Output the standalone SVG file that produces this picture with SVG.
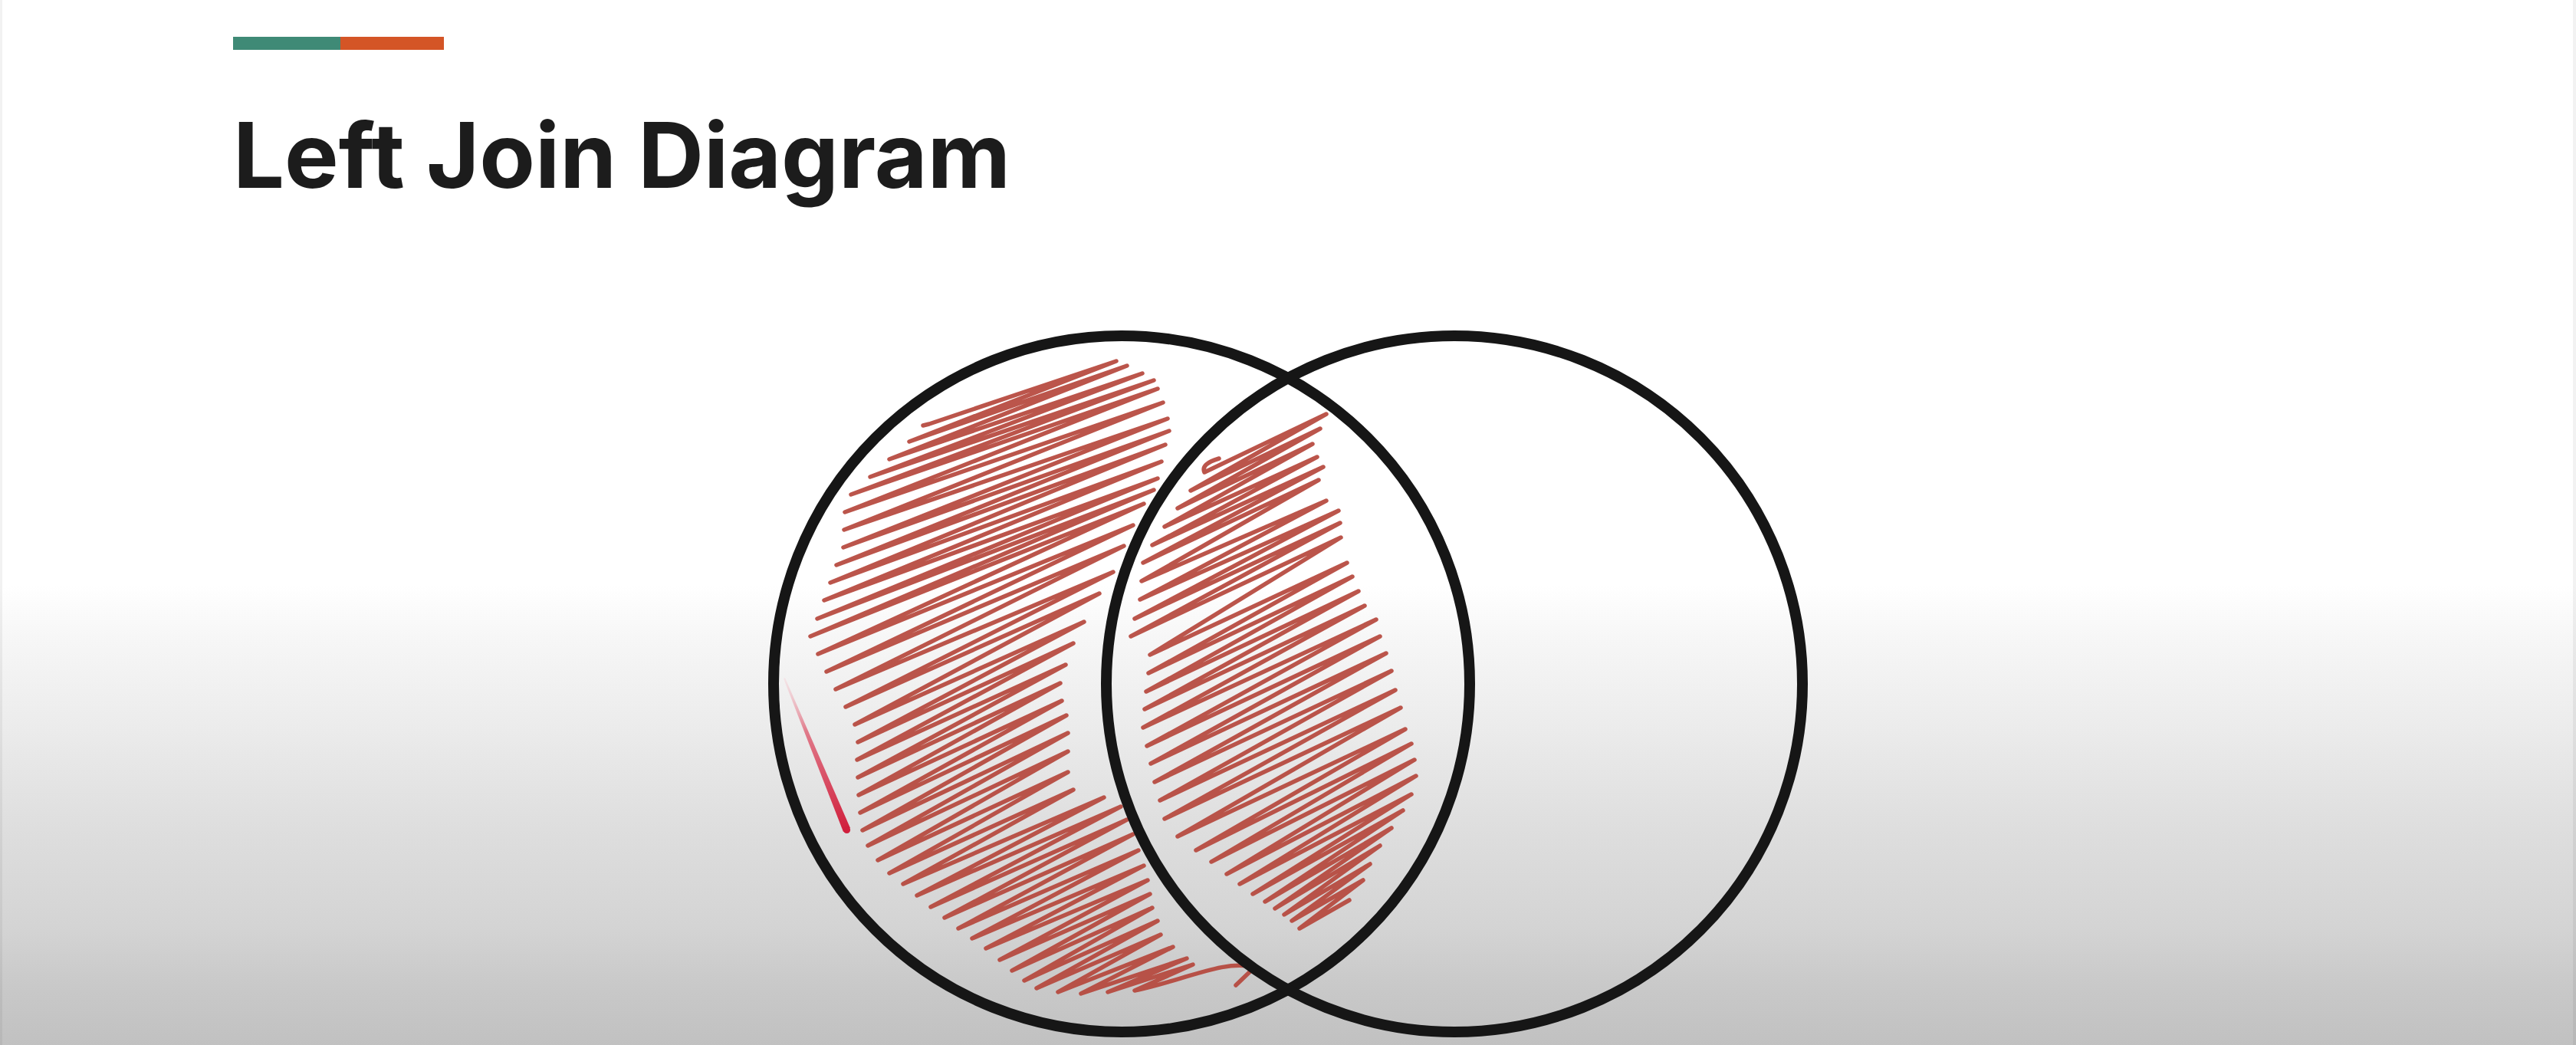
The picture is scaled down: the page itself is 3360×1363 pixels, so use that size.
<svg xmlns="http://www.w3.org/2000/svg" width="3360" height="1363" viewBox="0 0 3360 1363">
<defs>
<linearGradient id="bg" x1="0" y1="0" x2="0" y2="1363" gradientUnits="userSpaceOnUse">
<stop offset="0" stop-color="#ffffff"/>
<stop offset="0.56" stop-color="#ffffff"/>
<stop offset="0.607" stop-color="#f7f7f7"/>
<stop offset="0.70" stop-color="#ebebeb"/>
<stop offset="0.792" stop-color="#dedede"/>
<stop offset="0.886" stop-color="#d4d4d4"/>
<stop offset="0.948" stop-color="#c8c8c8"/>
<stop offset="1" stop-color="#c1c1c1"/>
</linearGradient>
<linearGradient id="pen" x1="1023" y1="885" x2="1105" y2="1083" gradientUnits="userSpaceOnUse">
<stop offset="0" stop-color="#f6d0d6" stop-opacity="0.4"/>
<stop offset="0.35" stop-color="#e07a8a"/>
<stop offset="1" stop-color="#d01f3c"/>
</linearGradient>
<style>
.title{font-family:Inter,"Liberation Sans",sans-serif;font-weight:700;font-size:118px;fill:#1c1c1c}
.ring{fill:none;stroke:#161616;stroke-width:14}
.scrib{fill:none;stroke:#b5463c;stroke-width:5.5;stroke-linejoin:round;stroke-linecap:round;opacity:0.92}
</style>
</defs>
<rect x="0" y="0" width="3360" height="1363" fill="url(#bg)"/>
<rect x="0" y="0" width="3" height="1363" fill="#000" opacity="0.05"/>
<rect x="3356" y="0" width="4" height="1363" fill="#000" opacity="0.05"/>

<g id="accent-bar">
<rect x="304" y="48" width="140" height="17" fill="#3f8a76"/>
<rect x="444" y="48" width="135" height="17" fill="#d45526"/>
</g>
<g id="title">
<text class="title" x="304" y="245" textLength="1014" lengthAdjust="spacingAndGlyphs">Left Join Diagram</text>
</g>

<g id="shading">
<path class="scrib" d="M1204 555 L1212 553 L1456 471 L1186 576 L1470 477 L1160 599 L1490 487 L1135 622 L1505 496 L1110 645 L1510 507 L1102 668 L1517 525 L1101 691 L1523 546 L1100 714 L1525 562 L1091 737 L1520 580 L1083 760 L1515 602 L1075 783 L1510 624 L1066 807 L1505 639 L1057 830 L1492 657 L1067 853 L1478 685 L1078 876 L1466 712 L1090 899 L1452 746 L1103 922 L1434 774 L1115 945 L1414 811 L1119 968 L1400 839 L1118 991 L1390 867 L1119 1014 L1383 891 L1120 1037 L1385 914 L1122 1060 L1391 933 L1125 1083 L1393 956 L1132 1103 L1393 980 L1145 1122 L1393 1007 L1160 1139 L1400 1030 L1178 1153 L1440 1040 L1196 1168 L1462 1052 L1214 1183 L1470 1069 L1232 1197 L1478 1088 L1250 1211 L1485 1109 L1268 1224 L1492 1129 L1286 1237 L1497 1148 L1304 1252 L1500 1166 L1320 1266 L1503 1184 L1336 1279 L1510 1201 L1352 1289 L1514 1219 L1380 1294 L1530 1235 L1410 1296 L1548 1250 L1445 1294 L1556 1258 L1480 1292 C1540 1280 1600 1250 1636 1262 L1612 1285"/>
<path class="scrib" d="M1590 598 Q1566 605 1571 616 L1730 540 L1553 640 L1722 559 L1536 663 L1712 579 L1519 687 L1718 596 L1503 711 L1726 609 L1491 734 L1720 626 L1489 758 L1730 653 L1487 782 L1746 666 L1480 807 L1748 682 L1475 830 L1749 701 L1500 854 L1757 734 L1498 878 L1764 752 L1495 902 L1772 771 L1493 925 L1780 790 L1491 949 L1795 808 L1496 973 L1800 830 L1501 996 L1808 852 L1506 1020 L1815 875 L1513 1044 L1820 900 L1519 1068 L1827 923 L1536 1091 L1833 951 L1560 1109 L1841 970 L1580 1124 L1845 991 L1600 1140 L1847 1012 L1617 1153 L1841 1036 L1634 1166 L1830 1057 L1650 1176 L1815 1080 L1663 1185 L1800 1103 L1675 1193 L1787 1127 L1685 1201 L1778 1148 L1695 1211 L1760 1174"/>
<path d="M1022 885 L1024 884 L1109 1080 L1100 1085 Z" fill="url(#pen)"/>
<circle cx="1104.5" cy="1082.5" r="4.6" fill="#d01f3c"/>
</g>

<g id="circle-left">
<circle class="ring" cx="1463" cy="892" r="454"/>
</g>
<g id="circle-right">
<circle class="ring" cx="1897" cy="892" r="454"/>
</g>
</svg>
